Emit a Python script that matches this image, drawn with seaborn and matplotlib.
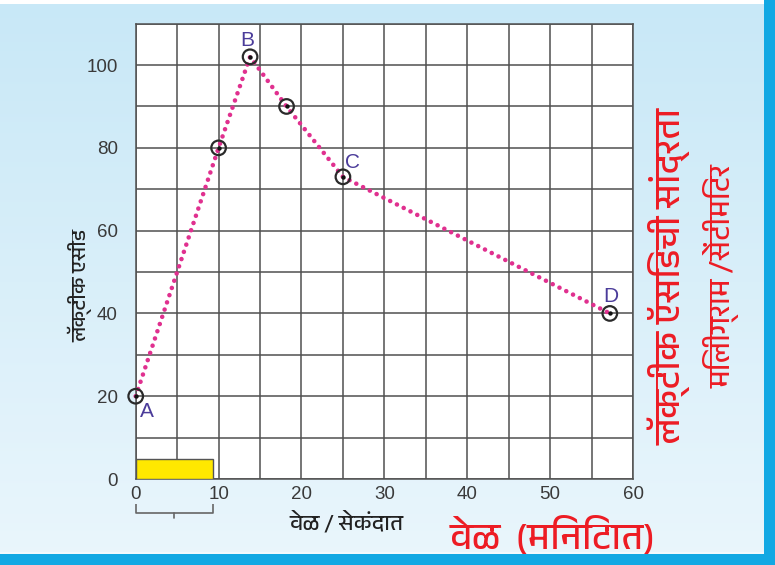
import numpy as np
import pandas as pd
import matplotlib
matplotlib.use("Agg")
import matplotlib.pyplot as plt
import seaborn as sns
from matplotlib import font_manager as fm
from matplotlib.patches import Rectangle

# ---------------- data ----------------
time_min = [0, 10, 13.8, 18.2, 25, 57.2]
lactic_conc = [20, 80, 102, 90, 73, 40]
point_names = ["A", "", "B", "", "C", "D"]
x_ticks = [0, 10, 20, 30, 40, 50, 60]
y_ticks = [0, 20, 40, 60, 80, 100]
scale_bar_width = 9.3
scale_bar_height = 4.8

title_right_1 = "लॅक्टीक ऍसिडची सांद्रता"
title_right_2 = "मिलीग्राम /सेंटीमिटर"
xlabel_red = "वेळ  (मिनिटात)"
xlabel_small = "वेळ / सेकंदात"
ylabel_small = "लॅक्टीक एसीड"

# ---------------- fonts ----------------
def find_devanagari_font():
    try:
        from fontTools.ttLib import TTFont
    except Exception:
        return None
    preferred = []
    for f in fm.fontManager.ttflist:
        try:
            tt = TTFont(f.fname, fontNumber=0, lazy=True)
            cmap = tt.getBestCmap()
            if cmap and 0x0915 in cmap and 0x0933 in cmap:
                preferred.append(f.name)
        except Exception:
            pass
    if not preferred:
        return None
    for p in preferred:
        if "Devanagari" in p:
            return p
    return preferred[0]

sns.set_theme(style="white")
deva = find_devanagari_font()
deva_family = ([deva] if deva else []) + ["DejaVu Sans"]
plt.rcParams["font.family"] = ["Liberation Sans", "DejaVu Sans"]

# ---------------- figure ----------------
fig = plt.figure(figsize=(7.75, 5.65), dpi=100)

# background gradient
bg = fig.add_axes([0, 0, 1, 1], zorder=-10)
top = np.array([200, 232, 247]) / 255
bot = np.array([234, 246, 252]) / 255
t = np.linspace(0, 1, 200)[:, None]
grad = top[None, :] * (1 - t) + bot[None, :] * t
grad = np.repeat(grad[:, None, :], 2, axis=1)
bg.imshow(grad, aspect="auto", extent=[0, 775, 0, 565], origin="upper")
bg.add_patch(Rectangle((0, 561), 775, 4, color="white", lw=0))
bg.add_patch(Rectangle((764, 0), 11, 565, color="#12a8e3", lw=0))
bg.add_patch(Rectangle((0, 0), 775, 11, color="#12a8e3", lw=0))
bg.add_patch(Rectangle((0, 11), 764, 2, color="#f2f9fd", lw=0))
bg.set_xlim(0, 775)
bg.set_ylim(0, 565)
bg.axis("off")

ax = fig.add_axes([0.1751, 0.1522, 0.6417, 0.8059])
ax.set_facecolor("white")
ax.set_xlim(0, 60)
ax.set_ylim(0, 110)

ax.set_xticks(x_ticks)
ax.set_xticks(np.arange(5, 60, 10), minor=True)
ax.set_yticks(y_ticks)
ax.set_yticks(np.arange(10, 111, 20), minor=True)
ax.grid(True, which="both", color="#505050", linewidth=1.1)
ax.set_axisbelow(True)
for s in ax.spines.values():
    s.set_color("#505050")
    s.set_linewidth(1.1)
ax.tick_params(axis="both", which="both", length=0, labelsize=13.5, labelcolor="#3a3a3a")
ax.tick_params(axis="x", pad=5)
ax.tick_params(axis="y", pad=13)

# yellow scale bar
ax.add_patch(Rectangle((0, 0), scale_bar_width, scale_bar_height,
                       facecolor="#ffe800", edgecolor="#555555", lw=1.0, zorder=3))

# bracket below axis
bx = [0, 0, scale_bar_width, scale_bar_width]
by = [-6.0, -8.3, -8.3, -6.0]
ax.plot(bx, by, color="#666666", lw=1.2, clip_on=False, solid_capstyle="butt")
ax.plot([scale_bar_width / 2] * 2, [-8.3, -9.5], color="#666666", lw=1.2, clip_on=False)

df = pd.DataFrame({"time": time_min, "conc": lactic_conc})
sns.lineplot(data=df, x="time", y="conc", ax=ax, color="#e0308f", lw=3.3,
             sort=False, zorder=4)
ln = ax.lines[-1]
ln.set_linestyle((0, (0.01, 1.65)))
ln.set_dash_capstyle("round")
ln.set_clip_on(False)

sns.scatterplot(data=df, x="time", y="conc", ax=ax, s=110, facecolor="none",
                edgecolor="#2a2a2a", linewidth=1.6, zorder=5)
sns.scatterplot(data=df, x="time", y="conc", ax=ax, s=10, color="#111111",
                linewidth=0, zorder=6)
for c in ax.collections:
    c.set_clip_on(False)

offsets = {"A": (8, -11), "B": (-2, 12), "C": (7, 10), "D": (1, 12)}
for x, y, n in zip(time_min, lactic_conc, point_names):
    if n:
        dx, dy = offsets[n]
        ax.annotate(n, (x, y), xytext=(dx, dy), textcoords="offset points",
                    ha="center", va="center", fontsize=15, color="#4b3c9a", zorder=7)

ax.set_xlabel("")
ax.set_ylabel("")

W, H = 775, 565
def ft(x, y, s, **kw):
    fig.text(x / W, 1 - y / H, s, **kw)

ft(347, 522, xlabel_small, ha="center", va="center", fontsize=16,
   fontweight="bold", color="#222222", family=deva_family)
ft(80, 285, ylabel_small, ha="center", va="center", fontsize=15, rotation=90,
   fontweight="bold", color="#222222", family=deva_family)
ft(553, 536, xlabel_red, ha="center", va="center", fontsize=27, style="italic",
   fontweight="bold", color="#ed1c24", family=deva_family)
ft(669, 276, title_right_1, ha="center", va="center", fontsize=26, rotation=90,
   color="#ed1c24", fontweight="bold", family=deva_family)
ft(722, 276, title_right_2, ha="center", va="center", fontsize=21, rotation=90,
   color="#ed1c24", family=deva_family)

fig.savefig("out.png", dpi=100)
